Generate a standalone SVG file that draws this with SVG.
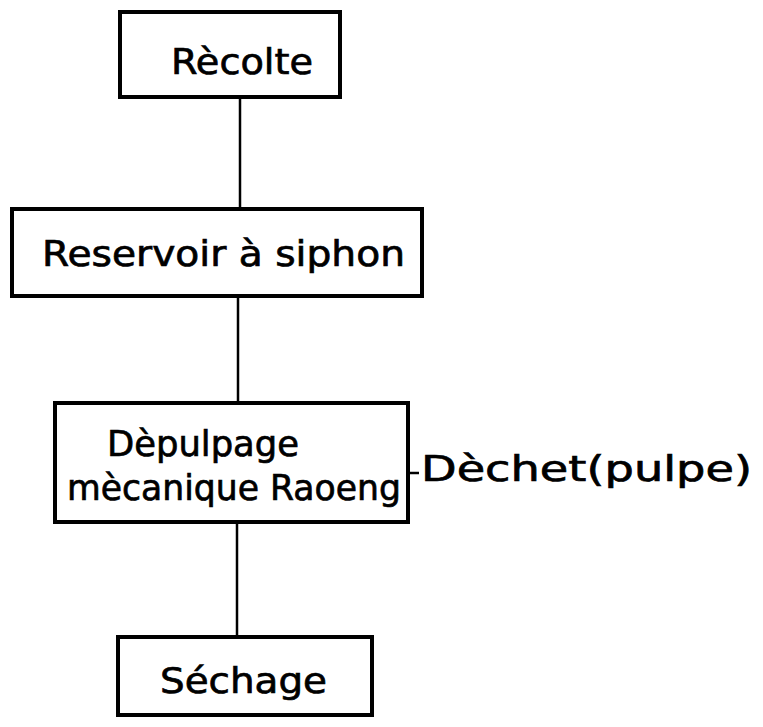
<svg xmlns="http://www.w3.org/2000/svg" width="763" height="727" viewBox="0 0 763 727">
  <style>
    .box { fill: #ffffff; stroke: #000000; stroke-width: 4; }
    .wire { fill: none; stroke: #000000; stroke-width: 2.5; }
    .lbl { font-family: "DejaVu Sans", "Liberation Sans", sans-serif; font-size: 36px; fill: #000000; stroke: #000000; stroke-width: 0.7; }
  </style>
  <rect width="763" height="727" fill="#ffffff"/>

  <!-- connectors -->
  <g id="connectors">
    <line class="wire" x1="240" y1="97" x2="240" y2="209"/>
    <line class="wire" x1="238" y1="296" x2="238" y2="403"/>
    <line class="wire" x1="237" y1="522" x2="237" y2="637"/>
    <line class="wire" x1="408" y1="473" x2="419" y2="473" stroke-width="3"/>
  </g>

  <g id="recolte">
    <rect class="box" x="120" y="12" width="220" height="85"/>
    <text class="lbl" x="171" y="74" textLength="142" lengthAdjust="spacingAndGlyphs">Rècolte</text>
  </g>

  <g id="reservoir">
    <rect class="box" x="12" y="209" width="410" height="87"/>
    <text class="lbl" x="42" y="266" textLength="363" lengthAdjust="spacingAndGlyphs">Reservoir à siphon</text>
  </g>

  <g id="depulpage">
    <rect class="box" x="55" y="403" width="353" height="119"/>
    <text class="lbl" x="107" y="456" textLength="192" lengthAdjust="spacingAndGlyphs">Dèpulpage</text>
    <text class="lbl" x="67" y="500" textLength="334" lengthAdjust="spacingAndGlyphs">mècanique Raoeng</text>
  </g>

  <g id="dechet">
    <text class="lbl" x="421" y="481" textLength="331" lengthAdjust="spacingAndGlyphs">Dèchet(pulpe)</text>
  </g>

  <g id="sechage">
    <rect class="box" x="118" y="637" width="254" height="78"/>
    <text class="lbl" x="160" y="693" textLength="167" lengthAdjust="spacingAndGlyphs">Séchage</text>
  </g>
</svg>
